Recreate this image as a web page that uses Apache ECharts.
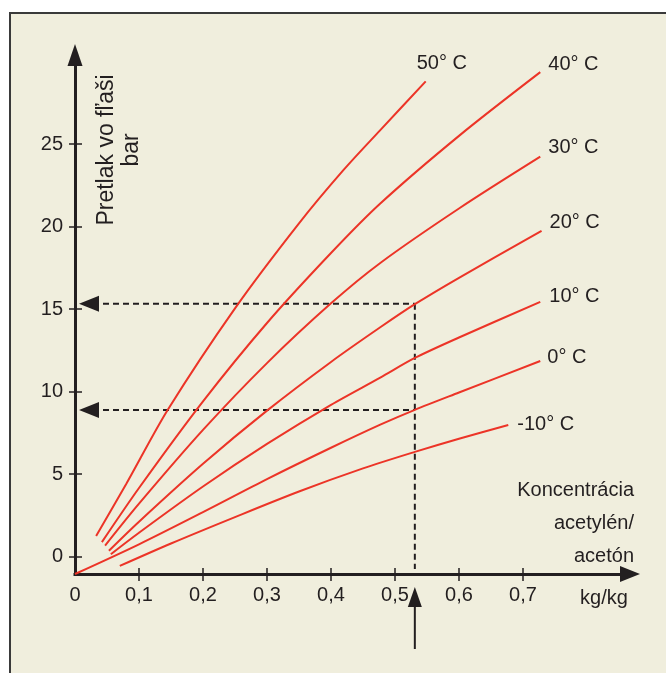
<!DOCTYPE html>
<html><head><meta charset="utf-8">
<script src="https://cdn.jsdelivr.net/npm/echarts@6/dist/echarts.min.js"></script>
<style>html,body{margin:0;padding:0;background:#fff}#c{width:666px;height:673px}</style>
</head><body><div id="c"></div>
<script>
// ---- data ----
const tempLabels = ['50° C', '40° C', '30° C', '20° C', '10° C', '0° C', '-10° C'];
const conc50 = [0.033, 0.08, 0.145, 0.25, 0.35, 0.42, 0.477, 0.548];
const pres50 = [1.25, 4.4, 8.9, 15.05, 20.2, 23.45, 25.85, 28.8];
const conc40 = [0.042, 0.1, 0.2, 0.3, 0.4, 0.477, 0.6, 0.727];
const pres40 = [0.88, 4.16, 9.41, 14.16, 18.4, 21.4, 25.5, 29.36];
const conc30 = [0.047, 0.1, 0.2, 0.3, 0.4, 0.477, 0.6, 0.727];
const pres30 = [0.67, 3.21, 7.68, 11.73, 15.35, 17.8, 21.1, 24.24];
const conc20 = [0.053, 0.1, 0.2, 0.3, 0.4, 0.477, 0.531, 0.6, 0.729];
const pres20 = [0.36, 2.12, 5.63, 8.85, 11.8, 13.9, 15.3, 16.9, 19.74];
const conc10 = [0.056, 0.1, 0.2, 0.3, 0.4, 0.477, 0.531, 0.6, 0.727];
const pres10 = [0.15, 1.45, 4.25, 6.83, 9.2, 10.85, 12.04, 13.28, 15.44];
const conc0 = [0, 0.1, 0.2, 0.3, 0.4, 0.477, 0.531, 0.6, 0.727];
const pres0 = [-1.05, 0.75, 2.7, 4.7, 6.6, 8.0, 8.9, 9.95, 11.86];
const concM10 = [0.07, 0.15, 0.25, 0.35, 0.45, 0.531, 0.6, 0.677];
const presM10 = [-0.56, 0.8, 2.4, 3.95, 5.35, 6.35, 7.15, 7.98];
const xTickValues = [0, 0.1, 0.2, 0.3, 0.4, 0.5, 0.6, 0.7];
const xTickLabels = ['0', '0,1', '0,2', '0,3', '0,4', '0,5', '0,6', '0,7'];
const yTickValues = [0, 5, 10, 15, 20, 25];
const yTickLabels = ['0', '5', '10', '15', '20', '25'];
const readConc = 0.531;
const readPressures = [15.32, 8.89];
const xAxisMin = 0, xAxisMax = 0.8672;
const yAxisMin = -1.05, yAxisMax = 30.4;
const yTitle = 'Pretlak vo fľaši\nbar';
const xTitle = 'Koncentrácia\nacetylén/\nacetón';
const xUnit = 'kg/kg';

// ---- styling ----
const FONT = '"Liberation Sans", Arial, Helvetica, sans-serif';
const INK = '#231f20';
const RED = '#ec3427';
const labelOffsets = [[-9, -18], [8, -8], [8, -9], [8, -8], [9, -5], [7, -3], [9, 0]];
const curves = [[conc50, pres50], [conc40, pres40], [conc30, pres30], [conc20, pres20],
                [conc10, pres10], [conc0, pres0], [concM10, presM10]];

const chart = echarts.init(document.getElementById('c'));
const xFmt = v => { const i = xTickValues.findIndex(t => Math.abs(t - v) < 1e-6); return i >= 0 ? xTickLabels[i] : ''; };
const yFmt = v => { const i = yTickValues.findIndex(t => Math.abs(t - v) < 1e-6); return i >= 0 ? yTickLabels[i] : ''; };
const tickStyle = { color: INK, width: 1.5 };

const option = {
  animation: false,
  backgroundColor: '#f0eedd',
  grid: { left: 75, top: 55, width: 555, height: 519 },
  xAxis: [{
    type: 'value', min: xAxisMin, max: xAxisMax, position: 'bottom',
    axisLine: { show: true, onZero: false, symbol: ['none', 'triangle'], symbolSize: [16, 20],
      lineStyle: { color: INK, width: 3, cap: 'square' } },
    axisTick: { show: true, inside: false, length: 7, customValues: xTickValues.slice(1), lineStyle: tickStyle },
    axisLabel: { customValues: xTickValues, formatter: xFmt, color: INK, fontSize: 20, fontFamily: FONT, margin: 11 },
    splitLine: { show: false }
  }, {
    type: 'value', min: xAxisMin, max: xAxisMax, position: 'bottom',
    axisLine: { show: false, onZero: false },
    axisTick: { show: true, inside: true, length: 6, customValues: xTickValues.slice(1), lineStyle: tickStyle },
    axisLabel: { show: false }, splitLine: { show: false }
  }],
  yAxis: [{
    type: 'value', min: yAxisMin, max: yAxisMax, position: 'left',
    axisLine: { show: true, onZero: false, symbol: ['none', 'triangle'], symbolSize: [15, 22],
      lineStyle: { color: INK, width: 3, cap: 'square' } },
    axisTick: { show: true, inside: false, length: 6, customValues: yTickValues, lineStyle: tickStyle },
    axisLabel: { customValues: yTickValues, formatter: yFmt, color: INK, fontSize: 20, fontFamily: FONT, margin: 12 },
    splitLine: { show: false }
  }, {
    type: 'value', min: yAxisMin, max: yAxisMax, position: 'left',
    axisLine: { show: false, onZero: false },
    axisTick: { show: true, inside: true, length: 7, customValues: yTickValues, lineStyle: tickStyle },
    axisLabel: { show: false }, splitLine: { show: false }
  }],
  series: curves.map((c, i) => ({
    type: 'line', name: tempLabels[i],
    data: c[0].map((x, j) => [x, c[1][j]]),
    smooth: 0.3, symbol: 'none', showSymbol: false, silent: true, z: 3,
    lineStyle: { color: RED, width: 2 },
    endLabel: { show: true, formatter: '{a}', color: INK, fontSize: 20, fontFamily: FONT,
      distance: 0, offset: labelOffsets[i] }
  }))
};
chart.setOption(option);

// ---- guide lines and annotations, placed via the chart's own scales ----
const toPx = (x, y) => chart.convertToPixel({ gridIndex: 0 }, [x, y]);
const origin = toPx(xAxisMin, yAxisMin);
const axisX = origin[0], axisY = origin[1];
const topRead = toPx(readConc, readPressures[0]);
const dash = { stroke: INK, lineWidth: 2, lineDash: [6, 4], fill: null };
const g = [];
// frame
g.push({ type: 'rect', shape: { x: 0, y: 0, width: 666, height: 12 }, style: { fill: '#fff' }, silent: true });
g.push({ type: 'rect', shape: { x: 0, y: 0, width: 9, height: 673 }, style: { fill: '#fff' }, silent: true });
g.push({ type: 'polyline', shape: { points: [[10, 673], [10, 13], [666, 13]] }, style: { stroke: '#3a3a3a', lineWidth: 2, fill: null }, silent: true });
// horizontal reading lines with arrowheads at the pressure axis
readPressures.forEach(p => {
  const pt = toPx(readConc, p);
  g.push({ type: 'polyline', shape: { points: [[axisX + 28, pt[1]], [pt[0], pt[1]]] }, style: dash, silent: true });
  g.push({ type: 'polygon', shape: { points: [[axisX + 4, pt[1]], [axisX + 24, pt[1] - 8], [axisX + 24, pt[1] + 8]] },
    style: { fill: INK }, silent: true });
});
// vertical reading line
g.push({ type: 'polyline', shape: { points: [[topRead[0], topRead[1]], [topRead[0], axisY - 5]] }, style: dash, silent: true });
// arrow from below pointing at the concentration
g.push({ type: 'polygon', shape: { points: [[topRead[0], axisY + 13], [topRead[0] - 7, axisY + 33], [topRead[0] + 7, axisY + 33]] },
  style: { fill: INK }, silent: true, z: 10 });
g.push({ type: 'line', shape: { x1: topRead[0], y1: axisY + 32, x2: topRead[0], y2: axisY + 75 },
  style: { stroke: INK, lineWidth: 2 }, silent: true, z: 10 });
// titles
g.push({ type: 'text', x: 119, y: 150, rotation: Math.PI / 2, silent: true,
  style: { text: yTitle, font: '23px ' + FONT, fill: INK, align: 'center', verticalAlign: 'middle', lineHeight: 25 } });
g.push({ type: 'text', x: 634, y: 523, silent: true,
  style: { text: xTitle, font: '20px ' + FONT, fill: INK, align: 'right', verticalAlign: 'middle', lineHeight: 33 } });
g.push({ type: 'text', x: 604, y: 598, silent: true,
  style: { text: xUnit, font: '20px ' + FONT, fill: INK, align: 'center', verticalAlign: 'middle' } });
chart.setOption({ graphic: g });
</script>
</body></html>
